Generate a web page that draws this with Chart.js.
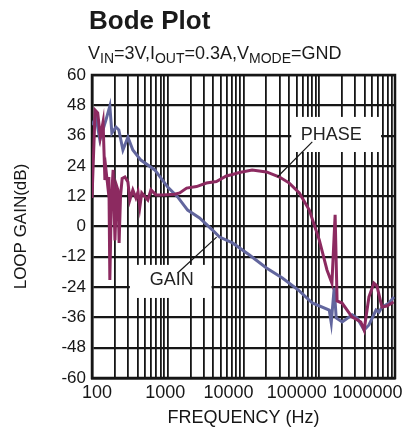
<!DOCTYPE html>
<html>
<head>
<meta charset="utf-8">
<script src="https://cdn.jsdelivr.net/npm/chart.js@4.4.1/dist/chart.umd.min.js"></script>
<style>
  html, body { margin: 0; padding: 0; background: #fff; }
  body { width: 403px; height: 430px; position: relative; overflow: hidden;
         font-family: "Liberation Sans", Arial, sans-serif; color: #1a1a1a; }
  canvas { position: absolute; left: 0; top: 0; }
  .title { position: absolute; left: 89px; top: 7px; font-size: 26px; line-height: 1; font-weight: bold; white-space: nowrap; }
  .sub { position: absolute; left: 88px; top: 44px; font-size: 18px; line-height: 1; white-space: nowrap; }
  .sub sub { font-size: 14px; vertical-align: -4px; line-height: 1; }
</style>
</head>
<body>
<canvas id="chart" width="403" height="430"></canvas>
<div class="title">Bode Plot</div>
<div class="sub">V<sub>IN</sub>=3V,I<sub>OUT</sub>=0.3A,V<sub>MODE</sub>=GND</div>
<script>
// frequency decades that get a label
const freqTicks = [100, 1000, 10000, 100000, 1000000];
// the source sets its labels a bit off the grid: + leading spaces, - trailing spaces
const freqLabelNudge = [2, -1, -6, -9, -11];

// gain curve (Hz, dB)
const gainFreq = [100, 113, 127, 153, 172, 183, 207, 226, 256, 298, 346, 441, 674, 1000, 1350, 1830,
  2630, 3900, 4830, 7160, 11990, 20100, 32600, 54600, 80900, 135500, 144000, 157500, 167400,
  201000, 272000, 316000, 391000, 453000, 562000, 615000, 675000, 834000, 970000];
const gainDb = [40.2, 43.4, 34.3, 42.2, 47.7, 37.0, 39.4, 38.2, 30.3, 35.4, 30.3, 26.3, 22.4, 15.6, 11.7, 6.5,
  3.4, -1.4, -4.2, -6.5, -11.3, -16.4, -20.4, -25.5, -30.3, -33.1, -38.2, -24.3, -36.2,
  -37.8, -35.0, -36.2, -41.0, -39.0, -33.1, -33.9, -31.9, -30.3, -27.9];

// phase curve (Hz, plotted on the same grid)
const phaseFreq = [100, 110, 119, 129, 140, 148, 153, 162, 167, 172, 180, 190, 201, 212, 220, 228, 238,
  250, 272, 298, 316, 346, 380, 405, 428, 454, 546, 600, 700, 860, 1236, 1438, 1775, 2400, 3240,
  4385, 5940, 7160, 8830, 13000, 20100, 29900, 40200, 54600, 73900, 100000, 126500, 147000,
  162000, 172000, 200000, 270000, 354000, 391000, 453000, 527000, 577000, 673000, 781000, 956000];
const phaseDb = [11.3, 46.1, 45.0, 35.4, 41.4, 18.4, 22.4, 15.6, 19.6, -21.2, 10, 22.4, -5.5, 16, 14.5, -6.5, 12,
  19, 19.6, 17.6, 10.5, 14.5, 11.3, 13.7, 7.7, 13.3, 10.5, 14.5, 12.5, 12.5, 12.8, 13.3, 15.2, 15.8, 17.2,
  17.8, 20.0, 20.6, 21.4, 22.4, 21.6, 19.6, 17.2, 13.3, 6.5, -5.3, -17.2, -22.4,
  4.6, -29.5, -30.3, -35.8, -37.8, -41.0, -27.9, -22.4, -23.5, -31.9, -31.5, -29.9];

// callout labels: text position, white box, leader line
const callouts = [
  { text: 'PHASE', at: [144000, 36.2], box: [42700, 655000, 43.4, 29.5], from: [80900, 33.5], to: [28000, 19.6] },
  { text: 'GAIN', at: [1130, -21.2], box: [316, 3790, -15.2, -28.3], from: [1350, -18.4], to: [4420, -4.2] }
];

const ink = '#161616';
Chart.defaults.font.family = '"Liberation Sans", Arial, sans-serif';
Chart.defaults.color = ink;

const calloutPlugin = {
  id: 'callouts',
  beforeDatasetsDraw(chart) {
    const { ctx, chartArea, scales: { x, y } } = chart;
    ctx.save();
    ctx.fillStyle = '#fff';
    callouts.forEach(c => {
      const x1 = x.getPixelForValue(c.box[0]), x2 = x.getPixelForValue(c.box[1]);
      const y1 = y.getPixelForValue(c.box[2]), y2 = y.getPixelForValue(c.box[3]);
      ctx.fillRect(x1, y1, x2 - x1, y2 - y1);
    });
    ctx.strokeStyle = ink;
    ctx.lineWidth = 2.5;
    ctx.strokeRect(chartArea.left, chartArea.top, chartArea.width, chartArea.height);
    ctx.restore();
  },
  afterDatasetsDraw(chart) {
    const { ctx, scales: { x, y } } = chart;
    ctx.save();
    ctx.strokeStyle = ink;
    ctx.lineWidth = 1.2;
    ctx.fillStyle = '#222';
    ctx.font = '18px "Liberation Sans", Arial, sans-serif';
    ctx.textAlign = 'center';
    ctx.textBaseline = 'middle';
    callouts.forEach(c => {
      ctx.beginPath();
      ctx.moveTo(x.getPixelForValue(c.from[0]), y.getPixelForValue(c.from[1]));
      ctx.lineTo(x.getPixelForValue(c.to[0]), y.getPixelForValue(c.to[1]));
      ctx.stroke();
      ctx.fillText(c.text, x.getPixelForValue(c.at[0]), y.getPixelForValue(c.at[1]));
    });
    ctx.restore();
  }
};

function freqLabel(v) {
  const i = freqTicks.indexOf(v);
  if (i < 0) return '';
  const n = freqLabelNudge[i];
  return n > 0 ? ' '.repeat(n) + v : v + ' '.repeat(-n);
}

new Chart(document.getElementById('chart').getContext('2d'), {
  type: 'line',
  data: {
    datasets: [
      {
        label: 'PHASE',
        data: phaseFreq.map((f, i) => ({ x: f, y: phaseDb[i] })),
        borderColor: 'rgb(140, 42, 96)',
        borderWidth: 3,
        pointRadius: 0,
        tension: 0
      },
      {
        label: 'GAIN',
        data: gainFreq.map((f, i) => ({ x: f, y: gainDb[i] })),
        borderColor: 'rgb(98, 102, 158)',
        borderWidth: 3,
        pointRadius: 0,
        tension: 0
      }
    ]
  },
  options: {
    responsive: false,
    animation: false,
    layout: { padding: { top: 75, right: 8, left: 0, bottom: 0 } },
    plugins: { legend: { display: false }, tooltip: { enabled: false } },
    scales: {
      x: {
        type: 'logarithmic',
        min: 100,
        max: 1000000,
        afterBuildTicks: (scale) => {
          const t = [];
          for (let e = 2; e <= 6; e++) {
            for (let m = 1; m <= 9; m++) {
              const v = m * 10 ** e;
              if (v <= 1000000) t.push({ value: v });
            }
          }
          scale.ticks = t;
        },
        afterFit: (scale) => {
          scale.height = 52;
          scale.paddingLeft = 0;
          scale.paddingRight = 0;
        },
        grid: { color: ink, lineWidth: 1.8, drawTicks: false },
        border: { color: ink, width: 2.5 },
        ticks: {
          autoSkip: false,
          maxRotation: 0,
          minRotation: 0,
          padding: 4,
          font: { size: 18 },
          callback: freqLabel
        },
        title: { display: true, text: 'FREQUENCY (Hz)', font: { size: 18 }, padding: { top: 0, bottom: 1 } }
      },
      y: {
        min: -60,
        max: 60,
        afterFit: (scale) => { scale.width = 92; },
        grid: { color: ink, lineWidth: 2.2, drawTicks: false },
        border: { color: ink, width: 2.5 },
        ticks: { stepSize: 12, padding: 6, font: { size: 17 } },
        title: { display: true, text: 'LOOP GAIN(dB)', font: { size: 17 }, padding: { top: 11, bottom: 0 } }
      }
    }
  },
  plugins: [calloutPlugin]
});
</script>
</body>
</html>
